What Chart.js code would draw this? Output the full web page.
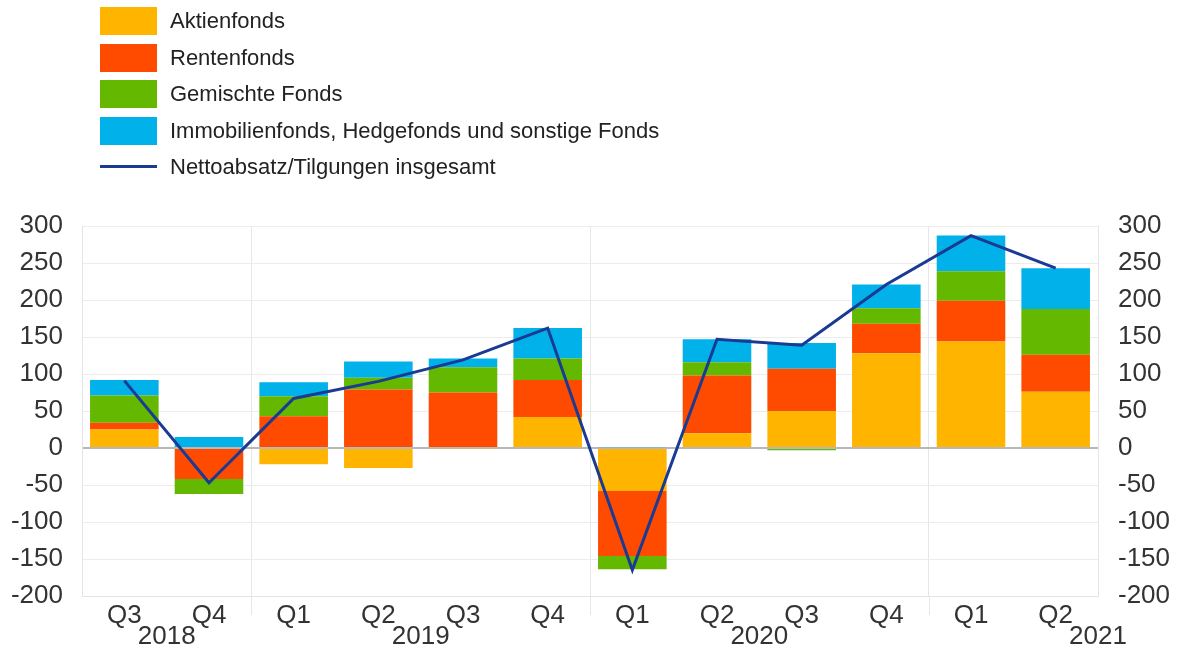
<!DOCTYPE html>
<html>
<head>
<meta charset="utf-8">
<script src="https://cdn.jsdelivr.net/npm/chart.js@4"></script>
<style>
  html, body { margin:0; padding:0; background:#fff; }
  #wrap { position:relative; width:1179px; height:652px; font-family:"Liberation Sans", Arial, sans-serif; color:#222; }
  #chart { position:absolute; left:0; top:0; }
  #legend { position:absolute; left:100px; top:7px; }
  .item { position:relative; height:36.5px; }
  .sw { position:absolute; left:0; top:0; width:57px; height:28px; }
  .ln { position:absolute; left:0; top:12px; width:57px; height:3px; }
  .tx { position:absolute; left:70px; top:0; line-height:28px; font-size:22px; white-space:nowrap; }
</style>
</head>
<body>
<div id="wrap">
  <canvas id="chart" width="1179" height="652"></canvas>
  <div id="legend"></div>
</div>
<script>
(function(){
  const quarters = ['Q3','Q4','Q1','Q2','Q3','Q4','Q1','Q2','Q3','Q4','Q1','Q2'];
  const years = ['2018','2019','2020','2021'];
  const yearAt = [0.5, 3.5, 7.5, 11.5]; // category index where each year label sits

  const aktien   = [25,   0, -22, -27, -1, 42, -58, 20, 50, 128, 144, 76];
  const renten   = [ 9, -42,  43,  79, 75, 50, -88, 78, 57,  40,  55, 50];
  const gemischt = [37, -20,  27,  16, 34, 29, -18, 18, -3,  21,  40, 62];
  const sonstige = [21,  15,  19,  22, 12, 41,   1, 31, 35,  32,  48, 55];
  const gesamt   = [91, -47,  67,  90, 119, 162, -165, 147, 139, 221, 287, 243];

  const yTicks = { min:-200, max:300, step:50 };

  const C = { yellow:'#FFB400', red:'#FF4B00', green:'#65B800', blue:'#00B1EA', navy:'#1a3a93', text:'#333' };
  const FONT = '"Liberation Sans", Arial, sans-serif';

  const series = [
    { label:'Aktienfonds', data:aktien, color:C.yellow },
    { label:'Rentenfonds', data:renten, color:C.red },
    { label:'Gemischte Fonds', data:gemischt, color:C.green },
    { label:'Immobilienfonds, Hedgefonds und sonstige Fonds', data:sonstige, color:C.blue }
  ];

  // legend
  const leg = document.getElementById('legend');
  series.forEach(s => {
    leg.insertAdjacentHTML('beforeend', `<div class="item"><div class="sw" style="background:${s.color}"></div><div class="tx">${s.label}</div></div>`);
  });
  leg.insertAdjacentHTML('beforeend', `<div class="item"><div class="ln" style="background:${C.navy}"></div><div class="tx">Nettoabsatz/Tilgungen insgesamt</div></div>`);

  const separators = [2, 6, 10];

  // year labels + separator ticks under the x axis
  const yearLabels = {
    id: 'yearLabels',
    afterDraw(chart){
      const { ctx, chartArea, scales } = chart;
      ctx.save();
      ctx.strokeStyle = '#e6e6e6';
      ctx.lineWidth = 1;
      separators.forEach(s => {
        const x = Math.round(scales.x.getPixelForValue(s - 0.5)) + 0.5;
        ctx.beginPath();
        ctx.moveTo(x, chartArea.bottom);
        ctx.lineTo(x, chartArea.bottom + 19);
        ctx.stroke();
      });
      ctx.font = `26px ${FONT}`;
      ctx.fillStyle = C.text;
      ctx.textAlign = 'center';
      ctx.textBaseline = 'middle';
      years.forEach((y, i) => {
        ctx.fillText(y, scales.x.getPixelForValue(yearAt[i]), chartArea.bottom + 41);
      });
      ctx.restore();
    }
  };

  const yScale = (pos) => ({
    position: pos,
    stacked: true,
    display: true,
    min: yTicks.min, max: yTicks.max,
    afterFit: s => { s.width = pos === 'left' ? 71 : 72; },
    border: { display: true, color: '#e4e4e4', width: 1 },
    grid: pos === 'left' ? {
      drawTicks: false,
      color: c => c.tick && c.tick.value === 0 ? '#b8b8b8' : '#ececec',
      lineWidth: c => c.tick && c.tick.value === 0 ? 2 : 1
    } : { display: false, drawTicks: false },
    ticks: { stepSize: yTicks.step, color: C.text, padding: pos === 'left' ? 19 : 20, font: { size: 26, family: FONT } }
  });

  new Chart(document.getElementById('chart'), {
    data: {
      labels: quarters,
      datasets: [
        { type:'line', label:'Nettoabsatz/Tilgungen insgesamt', data:gesamt, borderColor:C.navy, borderWidth:3,
          pointRadius:0, tension:0, fill:false, stack:'line', order:0, yAxisID:'y' },
        ...series.map(s => ({ type:'bar', label:s.label, data:s.data, backgroundColor:s.color,
          stack:'bars', order:1, barPercentage:0.81, categoryPercentage:1, yAxisID:'y' }))
      ]
    },
    options: {
      responsive: false,
      animation: false,
      layout: { padding: { top:226, left:11, right:9, bottom:22 } },
      plugins: { legend: { display:false }, tooltip: { enabled:false } },
      scales: {
        x: {
          stacked: true,
          afterFit: s => { s.height = 34; },
          border: { display: true, color: '#e4e4e4' },
          grid: {
            offset: true,
            drawTicks: false,
            color: c => separators.includes(c.index) ? '#e6e6e6' : 'transparent'
          },
          ticks: { color: C.text, padding: 4, maxRotation: 0, autoSkip: false, font: { size: 26, family: FONT } }
        },
        y: yScale('left'),
        y1: yScale('right')
      }
    },
    plugins: [yearLabels]
  });
})();
</script>
</body>
</html>
